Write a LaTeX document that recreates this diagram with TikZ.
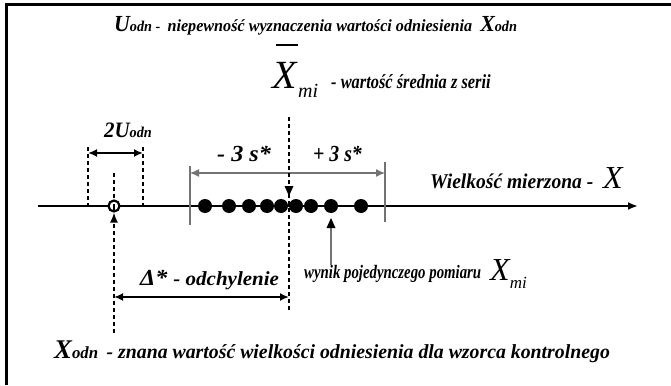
\documentclass[tikz,border=0pt]{standalone}
\usepackage{fontspec}
\usepackage{graphicx}
\setmainfont{Liberation Serif}
\usetikzlibrary{arrows.meta}
\newcommand{\fs}[1]{\fontsize{#1}{#1}\selectfont}
% bold italic caption text, horizontally squeezed by #1
\newcommand{\lbl}[2]{\scalebox{#1}[1]{\bfseries\itshape #2}}
% italic X with a bar over it
\newcommand{\barX}{\vbox{\hbox{\kern4pt\vrule width 22pt height 1.8pt}\kern3pt\hbox{\itshape X}}}
\tikzset{
  frameline/.style={line width=3pt},
  axisline/.style={line width=2pt},
  guide/.style={line width=1.5pt, dash pattern=on 4pt off 3pt},
  thinbar/.style={line width=1.2pt, black!55},
  tip/.style={-{Latex[length=10pt,width=8pt]}},
  bitip/.style={{Latex[length=9pt,width=8pt]}-{Latex[length=9pt,width=8pt]}},
  meas/.style={circle, fill=black, inner sep=0pt, minimum size=14pt},
  refpt/.style={circle, draw=black, line width=2.2pt, fill=white, inner sep=0pt, minimum size=11pt},
  txt/.style={inner sep=0pt, anchor=base west},
}
\begin{document}
\begin{tikzpicture}[x=1pt,y=-1pt]
\useasboundingbox (0,0) rectangle (671,385);
% open frame
\draw[frameline] (6,385) -- (6,5) -- (671,5);

% captions
\node[txt] (top) at (114,32) {\lbl{0.95}{\fs{23}U\fs{15}odn -\ \ \fs{17}niepewność wyznaczenia wartości odniesienia\ \ \fs{23}X\fs{15}odn}};
\node[txt] (xbar) at (272,89) {\fs{40}\barX\fs{20}\raisebox{-9pt}{\itshape mi}};
\node[txt] (mean) at (331,89) {\lbl{0.82}{\fs{20}- wartość średnia z serii}};
\node[txt] (twou) at (104,137) {\lbl{0.95}{\fs{22}2U\fs{15}odn}};
\node[txt] (minus) at (217,161) {\lbl{1.05}{\fs{23}- 3 s*}};
\node[txt] (plus) at (313,161) {\lbl{0.86}{\fs{23}+ 3 s*}};
\node[txt] (wiel) at (430,188) {\lbl{0.93}{\fs{21}Wielkość mierzona -}};
\node[txt] (wx) at (603,188) {\fs{32}\itshape X};
\node[txt] (delta) at (140,285) {\lbl{1.05}{\fs{23}Δ* \fs{20}- odchylenie}};
\node[txt] (wynik) at (304,278) {\lbl{0.78}{\fs{19}wynik pojedynczego pomiaru}\hspace{9pt}\raisebox{-2pt}{\fs{32}\itshape X\fs{17}\raisebox{-8pt}{mi}}};
\node[txt] (bottom) at (54,358) {\lbl{0.99}{\fs{27}X\fs{17}odn\ \ \fs{20}- znana wartość wielkości odniesienia dla wzorca kontrolnego}};

% key points
\coordinate (ax0) at (38,206);
\coordinate (ax1) at (638,206);
\coordinate (ul) at (88,147);
\coordinate (ulb) at (88,206);
\coordinate (ur) at (143,147);
\coordinate (urb) at (143,206);
\coordinate (reftop) at (114,173);
\coordinate (refbot) at (114,333);
\coordinate (mtop) at (289,117);
\coordinate (mtip) at (289,196);
\coordinate (mbot) at (289,310);
\coordinate (sl0) at (190,166);
\coordinate (sl1) at (190,225);
\coordinate (sr0) at (385,162);
\coordinate (sr1) at (385,222);
\coordinate (wyn0) at (331,265);

% measurement axis
\draw[axisline, tip] (ax0) -- (ax1);

% spread of the series: -3s* .. +3s*
\draw[thinbar] (sl0) -- (sl1);
\draw[thinbar] (sr0) -- (sr1);
\draw[thinbar, bitip] (sl0 |- 0,173) -- (sr0 |- 0,173);

% individual results
\foreach \x [count=\i] in {205,229,249,267,281,296,311,331,361}
  \node[meas] (m\i) at (\x,206) {};

% reference value and its 2U_odn interval
\node[refpt] (ref) at (114,206) {};
\draw[line width=1.5pt] (114,204) -- (114,210);
\draw[guide] (ul) -- (ulb);
\draw[guide] (ur) -- (urb);
\draw[axisline, bitip] (ul |- 0,153) -- (ur |- 0,153);
\draw[guide] (reftop) -- (ref.north);
\draw[guide, tip] (refbot) -- (ref.south);

% mean of the series
\draw[guide] (mtop) -- (mbot);
\fill (mtip) -- ++(-4.5,-10) -- ++(9,0) -- cycle;

% deviation
\draw[axisline, bitip] (refbot |- 0,297) -- (mbot |- 0,297);

% single result pointer
\draw[thinbar] (wyn0) -- (m8 |- 0,226);
\fill (m8 |- 0,218) -- ++(-4.5,10) -- ++(9,0) -- cycle;
\end{tikzpicture}
\end{document}
